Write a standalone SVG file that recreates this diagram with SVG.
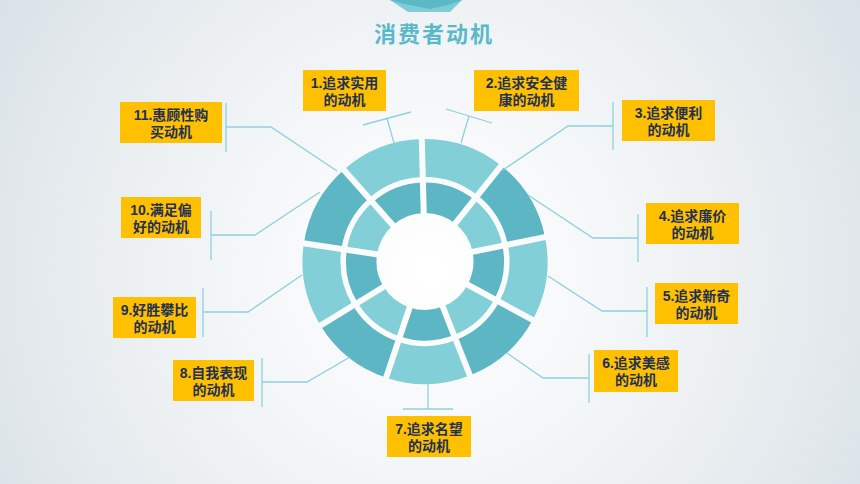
<svg xmlns="http://www.w3.org/2000/svg" width="860" height="484" viewBox="0 0 860 484">
  <defs>
    <radialGradient id="bg" cx="430" cy="270" r="520" gradientUnits="userSpaceOnUse">
      <stop offset="0" stop-color="#ffffff"/>
      <stop offset="0.45" stop-color="#f1f4f6"/>
      <stop offset="1" stop-color="#d9e1e6"/>
    </radialGradient>
    <mask id="gaps" maskUnits="userSpaceOnUse" x="-140" y="-140" width="280" height="280">
      <rect x="-140" y="-140" width="280" height="280" fill="#fff"/>
      <g stroke="#000" stroke-width="6">
        <line x1="0" y1="0" x2="0" y2="-135"/>
        <line x1="0" y1="0" x2="86.78" y2="-103.41"/>
        <line x1="0" y1="0" x2="132.95" y2="-23.44"/>
        <line x1="0" y1="0" x2="116.91" y2="67.5"/>
        <line x1="0" y1="0" x2="46.17" y2="126.86"/>
        <line x1="0" y1="0" x2="-46.17" y2="126.86"/>
        <line x1="0" y1="0" x2="-116.91" y2="67.5"/>
        <line x1="0" y1="0" x2="-132.95" y2="-23.44"/>
        <line x1="0" y1="0" x2="-86.78" y2="-103.41"/>
      </g>
    </mask>
    <style>
      .light { fill: #82cfd8; }
      .dark { fill: #5db6c4; }
      .box { fill: #ffc000; }
      .lbl { font-family: "Liberation Sans", "Noto Sans CJK SC", sans-serif; font-size: 14px; font-weight: bold; fill: #223052; text-anchor: middle; }
      .con { fill: none; stroke: #8ed1db; stroke-width: 1.3; }
      .title { font-family: "Noto Sans CJK SC", sans-serif; font-size: 22px; font-weight: bold; fill: #5ab9c8; text-anchor: middle; letter-spacing: 2px; }
    </style>
  </defs>

  <rect x="0" y="0" width="860" height="484" fill="url(#bg)"/>

  <g id="top-badge">
    <polygon points="390,0 462,0 450,12 408,12" fill="#80ccd6"/>
    <polygon points="390,0 462,0 452,4 430,9 404,4" fill="#5bb8c6"/>
  </g>

  <text class="title" x="434" y="42">消费者动机</text>

  <g id="ring" transform="translate(425,261.5) rotate(-1.5)">
    <g mask="url(#gaps)">
      <g id="outer-ring">
        <path class="light" d="M0,-122.5 A122.5,122.5 0 0 1 78.74,-93.84 L54.32,-64.73 A84.5,84.5 0 0 0 0,-84.5 Z"/>
        <path class="dark" d="M78.74,-93.84 A122.5,122.5 0 0 1 120.64,-21.27 L83.22,-14.67 A84.5,84.5 0 0 0 54.32,-64.73 Z"/>
        <path class="light" d="M120.64,-21.27 A122.5,122.5 0 0 1 106.09,61.25 L73.18,42.25 A84.5,84.5 0 0 0 83.22,-14.67 Z"/>
        <path class="dark" d="M106.09,61.25 A122.5,122.5 0 0 1 41.9,115.11 L28.9,79.4 A84.5,84.5 0 0 0 73.18,42.25 Z"/>
        <path class="light" d="M41.9,115.11 A122.5,122.5 0 0 1 -41.9,115.11 L-28.9,79.4 A84.5,84.5 0 0 0 28.9,79.4 Z"/>
        <path class="dark" d="M-41.9,115.11 A122.5,122.5 0 0 1 -106.09,61.25 L-73.18,42.25 A84.5,84.5 0 0 0 -28.9,79.4 Z"/>
        <path class="light" d="M-106.09,61.25 A122.5,122.5 0 0 1 -120.64,-21.27 L-83.22,-14.67 A84.5,84.5 0 0 0 -73.18,42.25 Z"/>
        <path class="dark" d="M-120.64,-21.27 A122.5,122.5 0 0 1 -78.74,-93.84 L-54.32,-64.73 A84.5,84.5 0 0 0 -83.22,-14.67 Z"/>
        <path class="light" d="M-78.74,-93.84 A122.5,122.5 0 0 1 0,-122.5 L0,-84.5 A84.5,84.5 0 0 0 -54.32,-64.73 Z"/>
      </g>
      <g id="inner-ring">
        <path class="dark" d="M0,-79 A79,79 0 0 1 50.78,-60.51 L31.18,-37.15 A48.5,48.5 0 0 0 0,-48.5 Z"/>
        <path class="light" d="M50.78,-60.51 A79,79 0 0 1 77.8,-13.71 L47.76,-8.42 A48.5,48.5 0 0 0 31.18,-37.15 Z"/>
        <path class="dark" d="M77.8,-13.71 A79,79 0 0 1 68.41,39.5 L42,24.25 A48.5,48.5 0 0 0 47.76,-8.42 Z"/>
        <path class="light" d="M68.41,39.5 A79,79 0 0 1 27.02,74.24 L16.59,45.57 A48.5,48.5 0 0 0 42,24.25 Z"/>
        <path class="dark" d="M27.02,74.24 A79,79 0 0 1 -27.02,74.24 L-16.59,45.57 A48.5,48.5 0 0 0 16.59,45.57 Z"/>
        <path class="light" d="M-27.02,74.24 A79,79 0 0 1 -68.41,39.5 L-42,24.25 A48.5,48.5 0 0 0 -16.59,45.57 Z"/>
        <path class="dark" d="M-68.41,39.5 A79,79 0 0 1 -77.8,-13.71 L-47.76,-8.42 A48.5,48.5 0 0 0 -42,24.25 Z"/>
        <path class="light" d="M-77.8,-13.71 A79,79 0 0 1 -50.78,-60.51 L-31.18,-37.15 A48.5,48.5 0 0 0 -47.76,-8.42 Z"/>
        <path class="dark" d="M-50.78,-60.51 A79,79 0 0 1 0,-79 L0,-48.5 A48.5,48.5 0 0 0 -31.18,-37.15 Z"/>
      </g>
    </g>
  </g>

  <g id="connectors">
    <line class="con" x1="363" y1="125" x2="411" y2="112"/>
    <line class="con" x1="387" y1="118.5" x2="394" y2="143"/>
    <line class="con" x1="446" y1="109" x2="492" y2="123"/>
    <line class="con" x1="469" y1="116" x2="461" y2="143"/>
    <polyline class="con" points="503,170 568,126 613,126"/>
    <line class="con" x1="613" y1="102" x2="613" y2="150"/>
    <polyline class="con" points="528,195 593,238 638,238"/>
    <line class="con" x1="638" y1="214" x2="638" y2="262"/>
    <polyline class="con" points="548,276 602,311 647,311"/>
    <line class="con" x1="647" y1="287" x2="647" y2="337"/>
    <polyline class="con" points="507,353 543,378 589,378"/>
    <line class="con" x1="589" y1="354" x2="589" y2="403"/>
    <line class="con" x1="428" y1="383" x2="428" y2="409"/>
    <line class="con" x1="403" y1="409" x2="453" y2="409"/>
    <polyline class="con" points="350,357 307,382 262,382"/>
    <line class="con" x1="262" y1="358" x2="262" y2="407"/>
    <polyline class="con" points="302,275 248,312 203,312"/>
    <line class="con" x1="203" y1="288" x2="203" y2="337"/>
    <polyline class="con" points="320,192 255,235 211,235"/>
    <line class="con" x1="211" y1="211" x2="211" y2="260"/>
    <polyline class="con" points="337,171 271,127 226,127"/>
    <line class="con" x1="226" y1="103" x2="226" y2="152"/>
  </g>

  <g id="node1">
    <rect class="box" x="303" y="70" width="83" height="41"/>
    <text class="lbl" x="344.5" y="88">1.追求实用</text>
    <text class="lbl" x="344.5" y="105">的动机</text>
  </g>
  <g id="node2">
    <rect class="box" x="474" y="70" width="105" height="41"/>
    <text class="lbl" x="526.5" y="88">2.追求安全健</text>
    <text class="lbl" x="526.5" y="105">康的动机</text>
  </g>
  <g id="node3">
    <rect class="box" x="622" y="100" width="93" height="41"/>
    <text class="lbl" x="668.5" y="118">3.追求便利</text>
    <text class="lbl" x="668.5" y="135">的动机</text>
  </g>
  <g id="node4">
    <rect class="box" x="646" y="203" width="93" height="41"/>
    <text class="lbl" x="692.5" y="221">4.追求廉价</text>
    <text class="lbl" x="692.5" y="238">的动机</text>
  </g>
  <g id="node5">
    <rect class="box" x="655" y="283" width="83" height="41"/>
    <text class="lbl" x="696.5" y="301">5.追求新奇</text>
    <text class="lbl" x="696.5" y="318">的动机</text>
  </g>
  <g id="node6">
    <rect class="box" x="594" y="350" width="84" height="42"/>
    <text class="lbl" x="636" y="368">6.追求美感</text>
    <text class="lbl" x="636" y="385">的动机</text>
  </g>
  <g id="node7">
    <rect class="box" x="387" y="416" width="84" height="41"/>
    <text class="lbl" x="429" y="434">7.追求名望</text>
    <text class="lbl" x="429" y="451">的动机</text>
  </g>
  <g id="node8">
    <rect class="box" x="173" y="360" width="81" height="41"/>
    <text class="lbl" x="213.5" y="378">8.自我表现</text>
    <text class="lbl" x="213.5" y="395">的动机</text>
  </g>
  <g id="node9">
    <rect class="box" x="113" y="297" width="83" height="41"/>
    <text class="lbl" x="154.5" y="315">9.好胜攀比</text>
    <text class="lbl" x="154.5" y="332">的动机</text>
  </g>
  <g id="node10">
    <rect class="box" x="121" y="197" width="80" height="41"/>
    <text class="lbl" x="161" y="215">10.满足偏</text>
    <text class="lbl" x="161" y="232">好的动机</text>
  </g>
  <g id="node11">
    <rect class="box" x="120" y="102" width="102" height="41"/>
    <text class="lbl" x="171" y="120">11.惠顾性购</text>
    <text class="lbl" x="171" y="137">买动机</text>
  </g>
</svg>
